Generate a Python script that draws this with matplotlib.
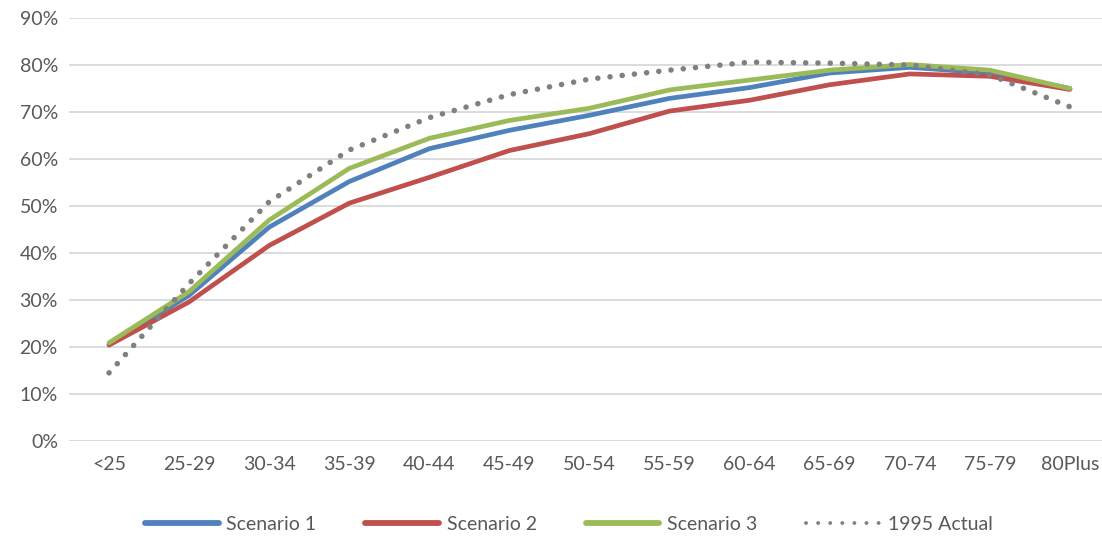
import matplotlib
matplotlib.use("Agg")
import matplotlib.pyplot as plt
from matplotlib.ticker import PercentFormatter

age_groups = ["<25", "25-29", "30-34", "35-39", "40-44", "45-49", "50-54",
              "55-59", "60-64", "65-69", "70-74", "75-79", "80Plus"]
scenario_1 = [20.6, 31.0, 45.5, 55.2, 62.2, 66.1, 69.3, 72.9, 75.2, 78.3, 79.5, 78.3, 75.0]
scenario_2 = [20.4, 29.6, 41.6, 50.6, 56.1, 61.8, 65.4, 70.2, 72.5, 75.8, 78.1, 77.6, 74.8]
scenario_3 = [20.9, 31.8, 47.0, 58.0, 64.4, 68.2, 70.8, 74.7, 76.8, 78.9, 80.1, 78.9, 75.0]
actual_1995 = [14.5, 33.5, 50.9, 61.9, 68.8, 73.7, 77.0, 78.9, 80.6, 80.4, 80.0, 77.9, 71.1]

grey_text = "#595959"
plt.rcParams["font.family"] = ["Lato", "DejaVu Sans"]

fig = plt.figure(figsize=(11.02, 5.38), dpi=100)
ax = fig.add_axes([69 / 1102, 1 - 441 / 538, (1110 - 69) / 1102, (441 - 18) / 538])

x = range(len(age_groups))
ax.plot(x, scenario_1, color="#4F81BD", lw=3.4, solid_capstyle="round", label="Scenario 1", zorder=3)
ax.plot(x, scenario_2, color="#C0504D", lw=3.4, solid_capstyle="round", label="Scenario 2", zorder=3)
ax.plot(x, scenario_3, color="#9BBB59", lw=3.4, solid_capstyle="round", label="Scenario 3", zorder=4)
ax.plot(x, actual_1995, color="#808080", lw=4.0, linestyle=(0, (0.01, 2.2)),
        dash_capstyle="round", label="1995 Actual", zorder=5)

ax.set_xlim(-0.5, len(age_groups) - 0.5)
ax.set_ylim(0, 90)
ax.set_yticks(range(0, 91, 10))
ax.yaxis.set_major_formatter(PercentFormatter(decimals=0))
ax.set_xticks(list(x))
ax.set_xticklabels(age_groups)
ax.grid(axis="y", color="#D9D9D9", lw=1.3)
ax.set_axisbelow(True)
for s in ax.spines.values():
    s.set_visible(False)
ax.tick_params(length=0, labelsize=14, colors=grey_text)
ax.tick_params(axis="x", pad=11)
ax.tick_params(axis="y", pad=8)

leg = fig.legend(loc="center", bbox_to_anchor=(0.516, 1 - 524 / 538), ncol=4,
                 frameon=False, fontsize=14, handlelength=3.8, handletextpad=0.4,
                 columnspacing=2.5)
for t in leg.get_texts():
    t.set_color(grey_text)
handles = leg.legend_handles
for h in handles[:3]:
    h.set_linewidth(4.2)
handles[3].set_linewidth(2.8)
handles[3].set_linestyle((0, (0.01, 3.1)))

fig.savefig("out.png", dpi=100)
